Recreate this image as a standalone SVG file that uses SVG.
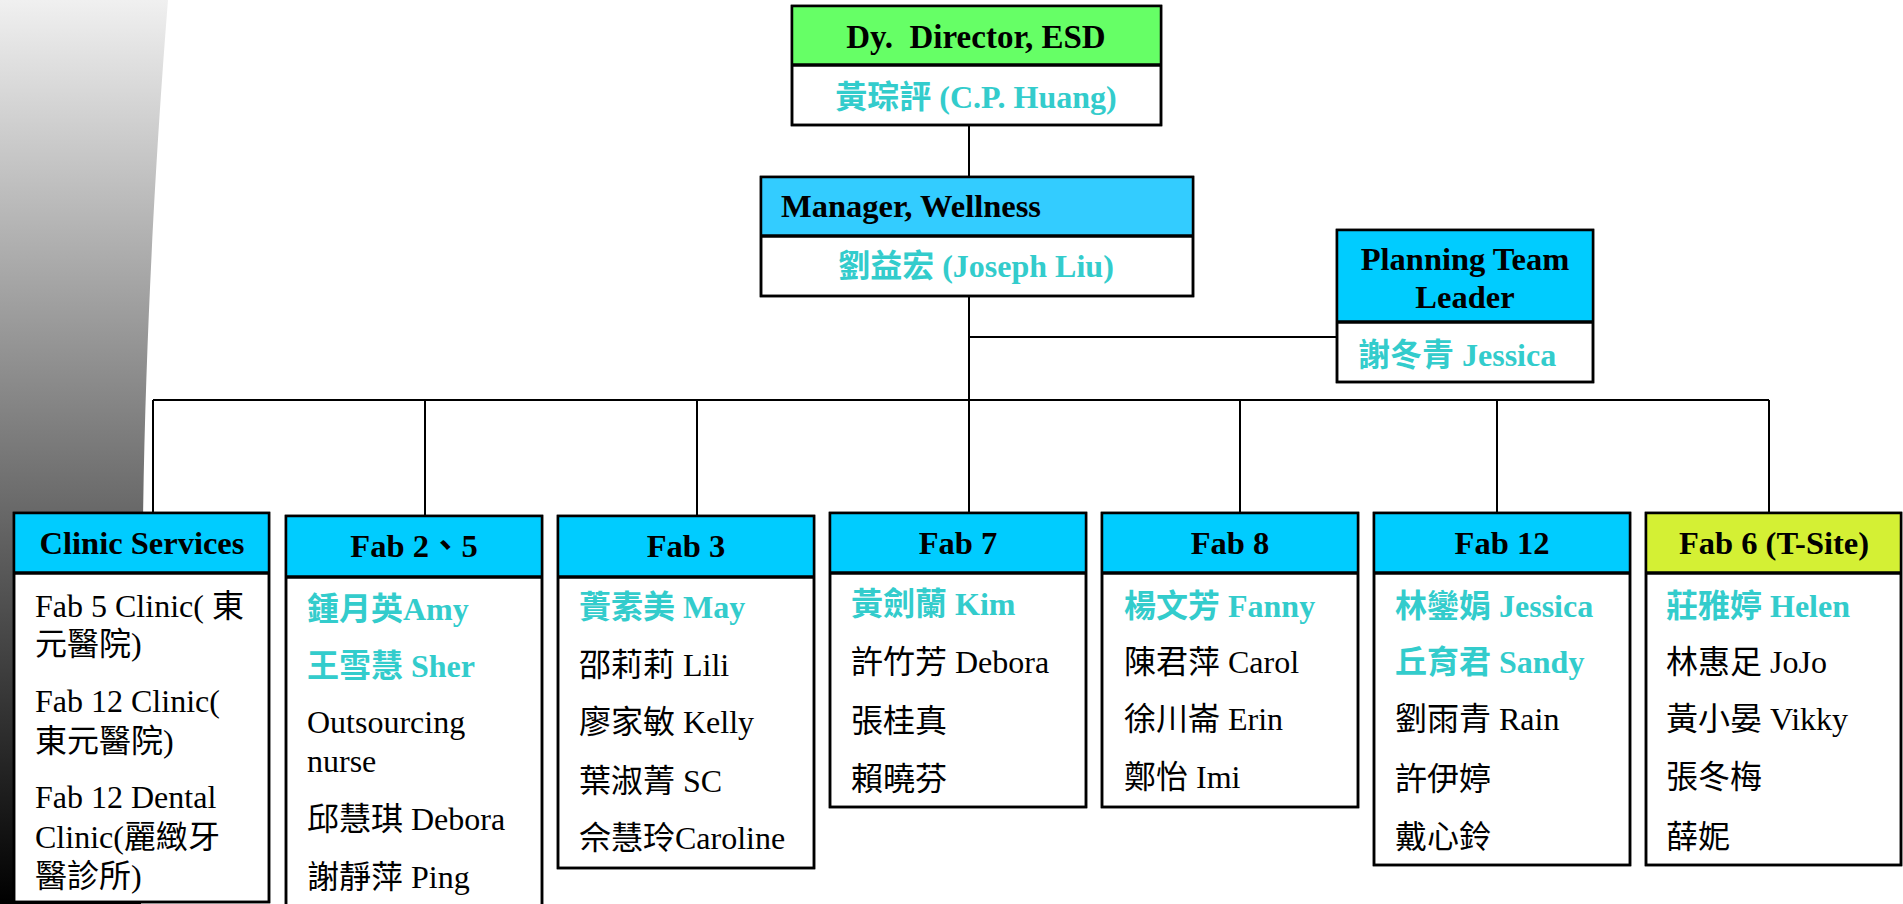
<svg xmlns="http://www.w3.org/2000/svg" width="1903" height="904" viewBox="0 0 1903 904">
<defs>
<linearGradient id="bg" x1="0" y1="0" x2="0" y2="1">
<stop offset="0" stop-color="#f0f0f0"/>
<stop offset="1" stop-color="#000000"/>
</linearGradient>
<style>
.box{fill:#ffffff;stroke:#000;stroke-width:2.5}
.div{stroke:#000;stroke-width:3.5}
.hb{fill:#00CCFF}
.hm{fill:#33CCFF}
.hg{fill:#66FF66}
.hy{fill:#D4F034}
.h{font-family:"Liberation Serif","Noto Sans CJK TC",serif;font-weight:bold;font-size:32.5px;fill:#000}
.b{font-family:"Liberation Serif","Noto Sans CJK TC",serif;font-size:32px;fill:#000}
.c{font-family:"Liberation Serif","Noto Sans CJK TC",serif;font-weight:bold;font-size:32px;fill:#33CCCC}
.mid{text-anchor:middle}
.ln{stroke:#000;stroke-width:2;fill:none}
</style>
</defs>
<rect width="1903" height="904" fill="#ffffff"/>
<path d="M0,0 H168 C160,100 146,300 143,520 L141,904 H0 Z" fill="url(#bg)"/>

<g id="connectors">
<path class="ln" d="M969,125 V177"/>
<path class="ln" d="M969,296 V513"/>
<path class="ln" d="M969,337 H1337"/>
<path class="ln" d="M153,400 H1769"/>
<path class="ln" d="M153,400 V513"/>
<path class="ln" d="M425,400 V516"/>
<path class="ln" d="M697,400 V516"/>
<path class="ln" d="M1240,400 V513"/>
<path class="ln" d="M1497,400 V513"/>
<path class="ln" d="M1769,400 V513"/>
</g>

<g id="director">
<rect class="box" x="792" y="6" width="369" height="119"/>
<rect class="hg" x="793" y="7" width="367" height="58"/>
<path class="div" d="M792,65 H1161"/>
<rect x="792" y="6" width="369" height="119" fill="none" stroke="#000" stroke-width="2.5"/>
<text class="h mid" x="976" y="48" xml:space="preserve" style="font-size:33px">Dy.  Director, ESD</text>
<text class="c mid" x="976" y="108">黃琮評 (C.P. Huang)</text>
</g>

<g id="manager">
<rect class="box" x="761" y="177" width="432" height="119"/>
<rect class="hm" x="762" y="178" width="430" height="58"/>
<path class="div" d="M761,236 H1193"/>
<rect x="761" y="177" width="432" height="119" fill="none" stroke="#000" stroke-width="2.5"/>
<text class="h" x="781" y="217">Manager, Wellness</text>
<text class="c mid" x="976" y="277">劉益宏 (Joseph Liu)</text>
</g>

<g id="planning">
<rect class="box" x="1337" y="230" width="256" height="152"/>
<rect class="hb" x="1338" y="231" width="254" height="91"/>
<path class="div" d="M1337,322 H1593"/>
<rect x="1337" y="230" width="256" height="152" fill="none" stroke="#000" stroke-width="2.5"/>
<text class="h mid" x="1465" y="270">Planning Team</text>
<text class="h mid" x="1465" y="308">Leader</text>
<text class="c" x="1358" y="366">謝冬青 Jessica</text>
</g>

<g id="clinic">
<rect class="box" x="14" y="513" width="255" height="389"/>
<rect class="hb" x="15" y="514" width="253" height="59"/>
<path class="div" d="M14,573 H269"/>
<rect x="14" y="513" width="255" height="389" fill="none" stroke="#000" stroke-width="2.5"/>
<text class="h mid" x="142" y="554">Clinic Services</text>
<text class="b" x="35" y="617">Fab 5 Clinic( 東</text>
<text class="b" x="35" y="655">元醫院)</text>
<text class="b" x="35" y="712">Fab 12 Clinic(</text>
<text class="b" x="35" y="752">東元醫院)</text>
<text class="b" x="35" y="808">Fab 12 Dental</text>
<text class="b" x="35" y="848">Clinic(麗緻牙</text>
<text class="b" x="35" y="887">醫診所)</text>
</g>

<g id="fab25">
<rect class="box" x="286" y="516" width="256" height="400"/>
<rect class="hb" x="287" y="517" width="254" height="60"/>
<path class="div" d="M286,577 H542"/>
<rect x="286" y="516" width="256" height="400" fill="none" stroke="#000" stroke-width="2.5"/>
<text class="h mid" x="414" y="557">Fab 2、5</text>
<text class="c" x="307" y="620">鍾月英Amy</text>
<text class="c" x="307" y="677">王雪慧 Sher</text>
<text class="b" x="307" y="733">Outsourcing</text>
<text class="b" x="307" y="772">nurse</text>
<text class="b" x="307" y="830">邱慧琪 Debora</text>
<text class="b" x="307" y="888">謝靜萍 Ping</text>
</g>

<g id="fab3">
<rect class="box" x="558" y="516" width="256" height="352"/>
<rect class="hb" x="559" y="517" width="254" height="60"/>
<path class="div" d="M558,577 H814"/>
<rect x="558" y="516" width="256" height="352" fill="none" stroke="#000" stroke-width="2.5"/>
<text class="h mid" x="686" y="557">Fab 3</text>
<text class="c" x="579" y="618">蕢素美 May</text>
<text class="b" x="579" y="676">邵莉莉 Lili</text>
<text class="b" x="579" y="733">廖家敏 Kelly</text>
<text class="b" x="579" y="792">葉淑菁 SC</text>
<text class="b" x="579" y="849">佘慧玲Caroline</text>
</g>

<g id="fab7">
<rect class="box" x="830" y="513" width="256" height="294"/>
<rect class="hb" x="831" y="514" width="254" height="59"/>
<path class="div" d="M830,573 H1086"/>
<rect x="830" y="513" width="256" height="294" fill="none" stroke="#000" stroke-width="2.5"/>
<text class="h mid" x="958" y="554">Fab 7</text>
<text class="c" x="851" y="615">黃劍蘭 Kim</text>
<text class="b" x="851" y="673">許竹芳 Debora</text>
<text class="b" x="851" y="732">張桂真</text>
<text class="b" x="851" y="790">賴曉芬</text>
</g>

<g id="fab8">
<rect class="box" x="1102" y="513" width="256" height="294"/>
<rect class="hb" x="1103" y="514" width="254" height="59"/>
<path class="div" d="M1102,573 H1358"/>
<rect x="1102" y="513" width="256" height="294" fill="none" stroke="#000" stroke-width="2.5"/>
<text class="h mid" x="1230" y="554">Fab 8</text>
<text class="c" x="1124" y="617">楊文芳 Fanny</text>
<text class="b" x="1124" y="673">陳君萍 Carol</text>
<text class="b" x="1124" y="730">徐川崙 Erin</text>
<text class="b" x="1124" y="788">鄭怡 Imi</text>
</g>

<g id="fab12">
<rect class="box" x="1374" y="513" width="256" height="352"/>
<rect class="hb" x="1375" y="514" width="254" height="59"/>
<path class="div" d="M1374,573 H1630"/>
<rect x="1374" y="513" width="256" height="352" fill="none" stroke="#000" stroke-width="2.5"/>
<text class="h mid" x="1502" y="554">Fab 12</text>
<text class="c" x="1395" y="617">林鑾娟 Jessica</text>
<text class="c" x="1395" y="673">丘育君 Sandy</text>
<text class="b" x="1395" y="730">劉雨青 Rain</text>
<text class="b" x="1395" y="790">許伊婷</text>
<text class="b" x="1395" y="848">戴心鈴</text>
</g>

<g id="fab6">
<rect class="box" x="1646" y="513" width="255" height="352"/>
<rect class="hy" x="1647" y="514" width="253" height="59"/>
<path class="div" d="M1646,573 H1901"/>
<rect x="1646" y="513" width="255" height="352" fill="none" stroke="#000" stroke-width="2.5"/>
<text class="h mid" x="1774" y="554">Fab 6 (T-Site)</text>
<text class="c" x="1666" y="617">莊雅婷 Helen</text>
<text class="b" x="1666" y="673">林惠足 JoJo</text>
<text class="b" x="1666" y="730">黃小晏 Vikky</text>
<text class="b" x="1666" y="788">張冬梅</text>
<text class="b" x="1666" y="848">薛妮</text>
</g>
</svg>
